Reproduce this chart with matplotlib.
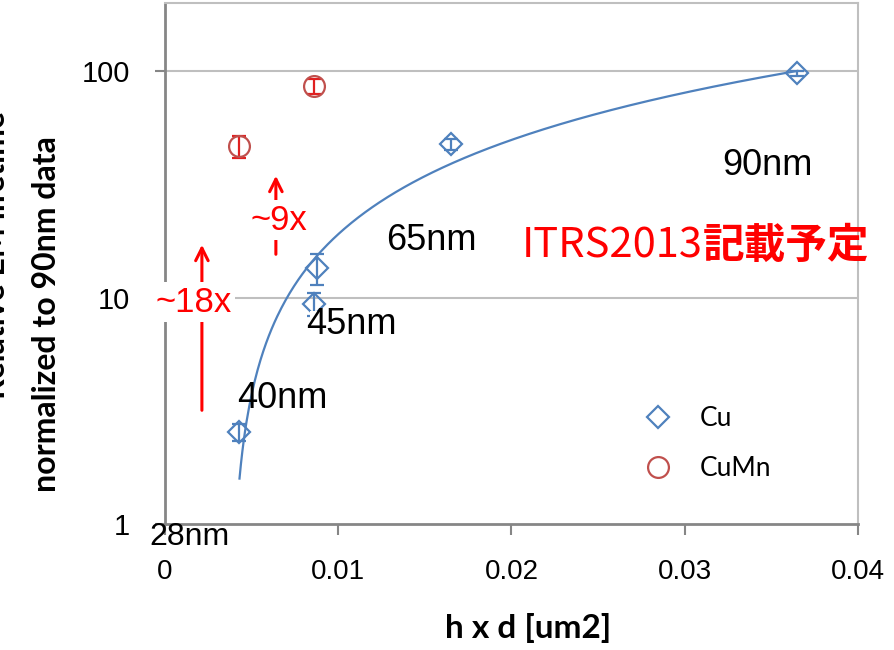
import numpy as np
import matplotlib
matplotlib.use("Agg")
import matplotlib.pyplot as plt
from matplotlib.lines import Line2D

# ---- data ----
cu_x = [0.0043, 0.0086, 0.0088, 0.0165, 0.0365]
cu_y = [2.55, 9.4, 13.5, 47.5, 98.0]
cu_err = [0.22, 1.1, 2.1, 2.5, 2.5]

cumn_x = [0.0043, 0.0086]
cumn_y = [46.6, 86.0]
cumn_err = [5.3, 6.5]

x_ticks = [0, 0.01, 0.02, 0.03, 0.04]
x_tick_labels = ["0", "0.01", "0.02", "0.03", "0.04"]
y_ticks = [1, 10, 100]
y_tick_labels = ["1", "10", "100"]

node_labels = ["90nm", "65nm", "45nm", "40nm", "28nm"]
node_pos = [(0.0348, 38.5), (0.01535, 17.9), (0.01074, 7.6), (0.00675, 3.6), (0.00144, 0.877)]

CU = "#4F81BD"
CUMN = "#C0504D"
RED = "#FF0000"
AXC = "#868686"
GRID = "#BFBFBF"

fig = plt.figure(figsize=(8.95, 6.5), dpi=100)
ax = fig.add_axes([165 / 895, 126 / 650, 693 / 895, 521 / 650])
ax.set_yscale("log")
ax.set_xlim(0, 0.04)
ax.set_ylim(1, 200)

# gridlines
for yv in [10, 100]:
    ax.axhline(yv, color=GRID, lw=1.5, zorder=0)

# spines
for s in ["left", "bottom"]:
    ax.spines[s].set_color(AXC)
    ax.spines[s].set_linewidth(2)
for s in ["top", "right"]:
    ax.spines[s].set_color(GRID)
    ax.spines[s].set_linewidth(1.5)

ax.set_xticks(x_ticks)
ax.set_xticklabels(x_tick_labels, family=["Liberation Sans Narrow", "Liberation Sans"], fontsize=20)
ax.set_yticks(y_ticks)
ax.set_yticklabels(y_tick_labels, family="Liberation Sans", fontsize=21)
ax.yaxis.set_minor_locator(matplotlib.ticker.NullLocator())
ax.tick_params(axis="x", direction="out", length=8, width=1.5, color=AXC, pad=17)
ax.tick_params(axis="y", direction="out", length=7, width=1.5, color=AXC, pad=18)

# linear trend line of Cu data
coef = np.polyfit(cu_x, cu_y, 1)
tx = np.linspace(min(cu_x), max(cu_x), 400)
ty = np.polyval(coef, tx)
m = ty > 0
ax.plot(tx[m], ty[m], color=CU, lw=1.6, zorder=2)

# data with error bars
ax.errorbar(cu_x, cu_y, yerr=cu_err, fmt="D", ms=11, mfc="none", mec=CU, mew=1.6,
            ecolor=CU, elinewidth=1.6, capsize=5, capthick=1.6, zorder=3)
ax.errorbar(cumn_x, cumn_y, yerr=cumn_err, fmt="o", ms=15, mfc="none", mec=CUMN, mew=1.6,
            ecolor="#E02020", elinewidth=1.6, capsize=5, capthick=1.6, zorder=3)

# node labels
for lab, (px, py) in zip(node_labels, node_pos):
    fam = ["Liberation Sans Narrow", "Liberation Sans"] if lab == "28nm" else "Liberation Sans"
    ax.text(px, py, lab, fontsize=26 if lab != "28nm" else 23, family=fam,
            ha="center", va="center", clip_on=False, zorder=5,
            bbox=dict(boxstyle="square,pad=-0.12", fc="white", ec="none") if lab == "45nm" else None)

# arrows with ratio labels
aprops = dict(arrowstyle="->,head_length=0.9,head_width=0.45", color=RED, lw=2.2)
ax.annotate("", xy=(0.00213, 17.6), xytext=(0.00213, 3.09), arrowprops=aprops)
ax.text(0.00165, 9.55, "~18x", color=RED, fontsize=25, family="Liberation Sans",
        ha="center", va="center", zorder=6,
        bbox=dict(boxstyle="square,pad=0.1", fc="white", ec="none"))
ax.annotate("", xy=(0.0064, 35.5), xytext=(0.0064, 15.1), arrowprops=aprops)
ax.text(0.00655, 22.0, "~9x", color=RED, fontsize=25, family="Liberation Sans",
        ha="center", va="center", zorder=6,
        bbox=dict(boxstyle="square,pad=0.1", fc="white", ec="none"))

# ITRS note
t1 = ax.text(0.0206, 16.9, "ITRS2013", color=RED, fontsize=30, family="Noto Sans CJK JP",
             ha="left", va="center", zorder=6)
ax.annotate("記載予定", xy=(1, 0.5), xycoords=t1, xytext=(0, 0), textcoords="offset points",
            color=RED, fontsize=30, family="Noto Sans CJK JP", fontweight="bold",
            ha="left", va="center", zorder=6, annotation_clip=False)

# legend (markers only)
handles = [Line2D([], [], ls="none", marker="D", ms=11, mfc="none", mec=CU, mew=1.6),
           Line2D([], [], ls="none", marker="o", ms=15, mfc="none", mec=CUMN, mew=1.6)]
leg = ax.legend(handles, ["Cu", "CuMn"], loc="center left", bbox_to_anchor=(0.672, 0.154),
                frameon=False, prop=dict(family="Lato", size=19), handletextpad=0.9,
                labelspacing=0.95, borderaxespad=0, handlelength=1.3)

# axis labels
fig.text(528 / 895, 1 - 628 / 650, "h x d [um2]", ha="center", va="center",
         fontsize=24, fontweight="bold", family="Lato")
fig.text(47 / 895, 1 - 314 / 650, "normalized to 90nm data", ha="center", va="center",
         rotation=90, fontsize=23, fontweight="bold", family="Lato")
fig.text(-4 / 895, 1 - 255 / 650, "Relative EM lifetime", ha="center", va="center",
         rotation=90, fontsize=23, fontweight="bold", family="Lato")

fig.savefig("out.png", dpi=100)
